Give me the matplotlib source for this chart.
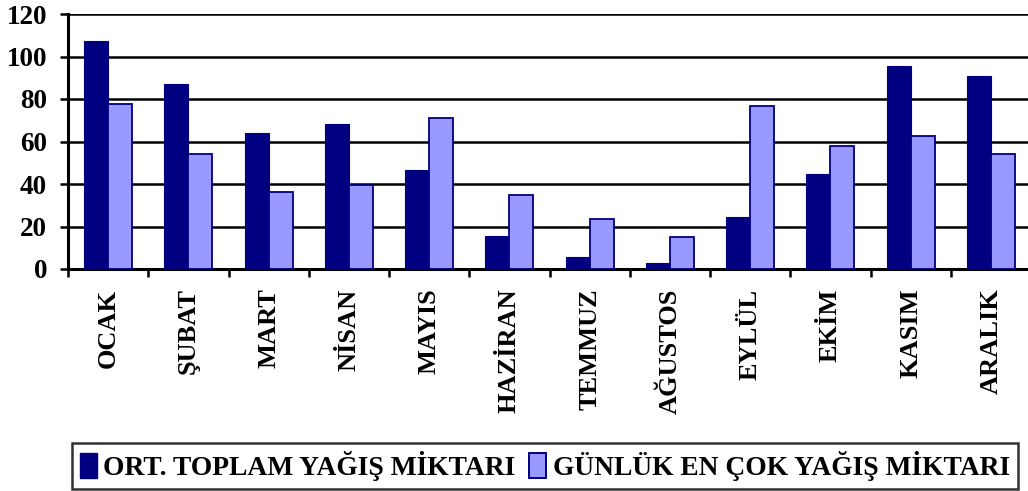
import numpy as np
import matplotlib
matplotlib.use("Agg")
import matplotlib.pyplot as plt
from matplotlib.patches import Patch

# monthly values
months = ["OCAK", "ŞUBAT", "MART", "NİSAN", "MAYIS", "HAZİRAN",
          "TEMMUZ", "AĞUSTOS", "EYLÜL", "EKİM", "KASIM", "ARALIK"]
ort_toplam = [107.4, 87.0, 64.2, 68.1, 46.6, 15.4, 5.5, 3.0, 24.6, 44.7, 95.5, 90.7]
gunluk_max = [77.5, 54.0, 36.4, 39.4, 71.2, 34.7, 23.7, 14.9, 76.7, 58.0, 62.6, 54.3]
series_names = ["ORT. TOPLAM YAĞIŞ MİKTARI", "GÜNLÜK EN ÇOK YAĞIŞ MİKTARI"]

DARK = "#000080"
LIGHT = "#9999FF"

plt.rcParams['font.family'] = ['Liberation Serif', 'DejaVu Serif']
plt.rcParams['font.weight'] = 'bold'

W, H = 1028, 491
fig = plt.figure(figsize=(W / 100, H / 100), dpi=100)
ax = fig.add_axes([68 / W, 1 - 269 / H, (1031 - 68) / W, (269 - 14) / H])

x = np.arange(len(months))
bw = 0.3
ax.bar(x - bw / 2, ort_toplam, bw, color=DARK, edgecolor=DARK, linewidth=0.8, zorder=3)
ax.bar(x + bw / 2, gunluk_max, bw, color=LIGHT, edgecolor=DARK, linewidth=1.3, zorder=3)

ax.set_xlim(-0.5, len(months) - 0.5)
ax.set_ylim(0, 120)
ax.set_yticks(range(0, 121, 20))
ax.yaxis.grid(True, color="black", linewidth=1.8, zorder=0)

ax.set_xticks(x)
ax.set_xticklabels(months, rotation=90, fontsize=19, fontweight='bold')
ax.set_xticks(np.arange(len(months)) - 0.5, minor=True)
ax.tick_params(axis='x', which='major', length=0, pad=14)
ax.tick_params(axis='x', which='minor', length=6, width=1.8, direction='out')
ax.tick_params(axis='y', length=6, width=1.8, pad=9, labelsize=19.5)
for lbl in ax.get_yticklabels():
    lbl.set_fontweight('bold')

for side in ["top", "right"]:
    ax.spines[side].set_visible(False)
for side in ["left", "bottom"]:
    ax.spines[side].set_linewidth(2.2)

handles = [Patch(facecolor=DARK, edgecolor=DARK),
           Patch(facecolor=LIGHT, edgecolor=DARK, linewidth=1.4)]
leg = fig.legend(handles, series_names, loc="center",
                 bbox_to_anchor=((73 + 1017) / 2 / W, 1 - 466 / H),
                 ncol=2, frameon=True, fancybox=False, edgecolor="black",
                 prop={'size': 19.8, 'weight': 'bold'},
                 handlelength=0.6, handleheight=1.0, handletextpad=0.25,
                 columnspacing=0.5, borderpad=0.3, borderaxespad=0)
leg.get_frame().set_linewidth(1.8)

fig.savefig("out.png", dpi=100)
